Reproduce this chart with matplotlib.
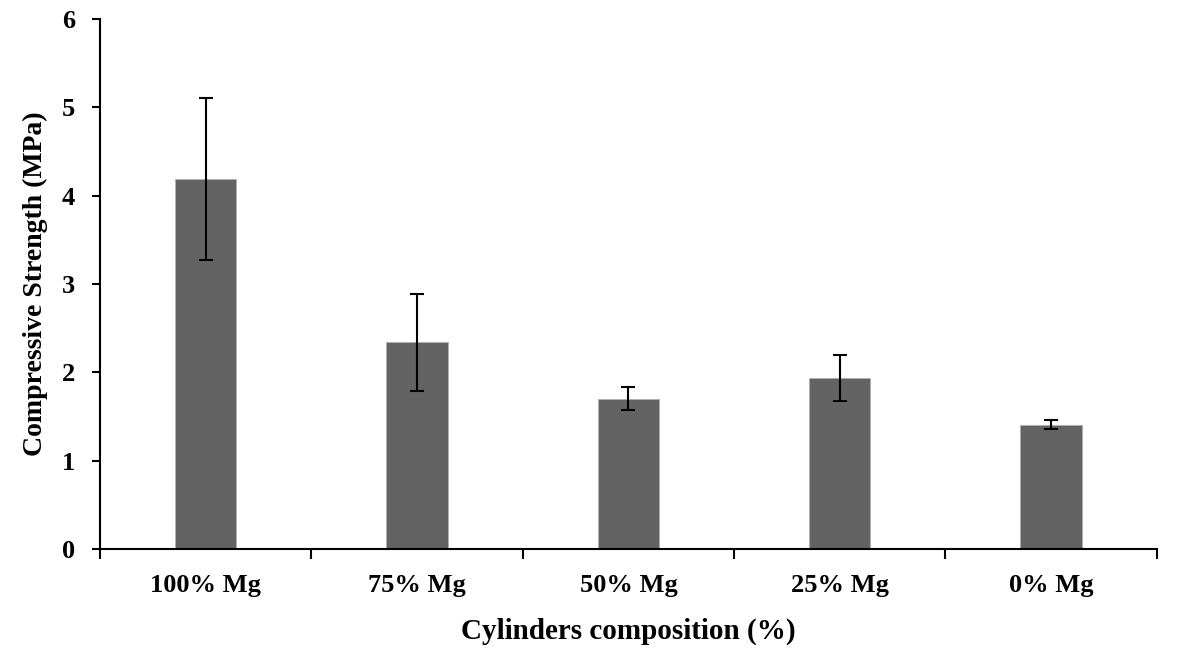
import matplotlib.pyplot as plt
import numpy as np

plt.rcParams['font.family'] = 'Liberation Serif'
plt.rcParams['font.weight'] = 'bold'

composiciones = ['100% Mg', '75% Mg', '50% Mg', '25% Mg', '0% Mg']
resistencia = [4.19, 2.34, 1.70, 1.94, 1.41]
desviacion = [0.92, 0.55, 0.13, 0.26, 0.05]

fig = plt.figure(figsize=(11.84, 6.53), dpi=100)
ax = fig.add_axes([0.0845, 0.159, 0.8925, 0.812])

x = np.arange(len(composiciones))
ax.bar(x, resistencia, width=0.29, color='#636363', edgecolor='#b0b0b0', linewidth=0.6,
       yerr=desviacion, error_kw=dict(ecolor='black', elinewidth=1.5, capsize=5, capthick=1.5))

ax.set_xlim(-0.5, len(composiciones) - 0.5)
ax.set_ylim(0, 6)
ax.set_yticks(range(0, 7))

# etiquetas centradas, marcas en los limites de cada categoria
ax.set_xticks(x)
ax.set_xticklabels(composiciones, fontsize=19, fontweight='bold')
ax.tick_params(axis='x', which='major', length=0, pad=18)
ax.set_xticks(np.arange(-0.5, len(composiciones)), minor=True)
ax.tick_params(axis='x', which='minor', length=7, width=1.5, direction='out')
ax.tick_params(axis='y', length=6, width=1.5, labelsize=19, pad=12)

for lbl in ax.get_yticklabels():
    lbl.set_fontweight('bold')

ax.spines['top'].set_visible(False)
ax.spines['right'].set_visible(False)
ax.spines['left'].set_linewidth(1.5)
ax.spines['bottom'].set_linewidth(1.5)

ax.set_xlabel('Cylinders composition (%)', fontsize=21, fontweight='bold', labelpad=15)
ax.set_ylabel('Compressive Strength (MPa)', fontsize=20, fontweight='bold', labelpad=10)

plt.savefig('out.png', dpi=100)
